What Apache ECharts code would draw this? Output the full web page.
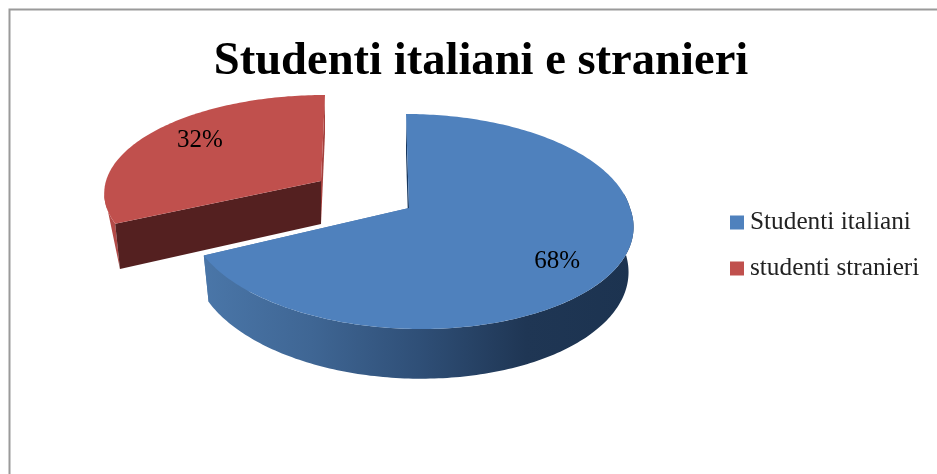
<!DOCTYPE html>
<html><head><meta charset="utf-8">
<style>html,body{margin:0;padding:0;background:#fff}#c{width:937px;height:474px}</style>
<script src="https://cdn.jsdelivr.net/npm/echarts@6/dist/echarts.min.js"></script>
</head><body><div id="c"></div>
<script>
var titleText = 'Studenti italiani e stranieri';
var categories = ['Studenti italiani', 'studenti stranieri'];
var shares = [68, 32];
var colors = ['#4f81bd', '#c0504d'];

// Layout of the drawn 3D slices (screen geometry only, no data)
var sliceLayout = [
  {ax:409, ay:208, rxL:220, rxR:221, ry:105.8, k:0.1256, skewBack:3, skewFront:12, d:44, dRx:5, dRy:5,
   labelR:0.74, labelDy:8,
   rim:{type:'linear',x:0,y:0,x2:1,y2:0,colorStops:[
     {offset:0,color:'#4a76a8'},{offset:.25,color:'#3f6694'},{offset:.5,color:'#2f4f77'},{offset:.75,color:'#1f3654'},{offset:1,color:'#1c3350'}]},
   cutStart:'#17375e', cutEnd:'#4a76a8'},
  {ax:321, ay:181, rxL:215, rxR:215, ry:95.5, k:0.11, skewBack:-4, skewFront:-4, d:43, dRx:5, dRy:5,
   labelR:0.706, labelDy:-6,
   rim:'#b34a47', cutStart:'#542020', cutEnd:'#a5403d'}
];

var total = shares.reduce(function(a,b){return a+b;},0);

function point(L, deg, bottom){
  var t = deg*Math.PI/180, u = Math.cos(t), v = Math.sin(t);
  var w = 1/(1-L.k*v);
  var rx = (u<0?L.rxL:L.rxR) - (bottom?L.dRx:0);
  var ry = L.ry + (bottom?L.dRy:0);
  return [L.ax + rx*u*w + (v<0?L.skewBack:L.skewFront)*v, L.ay + (bottom?L.d:0) + ry*v*w];
}
function arc(L, a, b, bottom){
  var pts=[], n=Math.max(2,Math.ceil(Math.abs(b-a)));
  for(var i=0;i<=n;i++) pts.push(point(L, a+(b-a)*i/n, bottom));
  return pts;
}
function renderSlice(idx){
  return function(params, api){
    var L = sliceLayout[idx], before = 0;
    for(var i=0;i<idx;i++) before += shares[i];
    var value = api.value(0);
    var a0 = -90 + 360*before/total, a1 = a0 + 360*value/total;
    var apexT=[L.ax,L.ay], apexB=[L.ax,L.ay+L.d];
    var rimPts;
    if(idx===0){
      // front wall seen below the top face, from the right silhouette to the cut
      rimPts = arc(L,-8,a1,false).concat(arc(L,-8,a1,true).reverse());
    } else {
      // narrow left wall, from the silhouette straight down to the cut's lower corner
      rimPts = arc(L,a0,a0+18,false).concat([point(L,a0,true)]);
    }
    var children = [];
    children.push({type:'polygon',shape:{points:[apexT,point(L,a1,false),point(L,a1,true),apexB]},style:{fill:L.cutEnd}});
    children.push({type:'polygon',shape:{points:rimPts},style:{fill:L.rim}});
    children.push({type:'polygon',shape:{points:[apexT,point(L,a0,false),point(L,a0,true),apexB]},style:{fill:L.cutStart}});
    children.push({type:'polygon',shape:{points:[apexT].concat(arc(L,a0,a1,false))},style:{fill:colors[idx]}});
    var mid=(a0+a1)/2, t=mid*Math.PI/180, u=Math.cos(t), v=Math.sin(t), w=1/(1-L.k*v);
    children.push({type:'text',z2:10,style:{
      text:Math.round(value/total*100)+'%',
      x:L.ax+(u<0?L.rxL:L.rxR)*u*w*L.labelR,
      y:L.ay+L.ry*v*w*L.labelR+L.labelDy,
      align:'center',verticalAlign:'middle',
      font:'25px "Liberation Serif"',fill:'#000'}});
    return {type:'group',children:children};
  };
}

var chart = echarts.init(document.getElementById('c'),null,{renderer:'canvas'});
chart.setOption({
  animation:false,
  backgroundColor:'#fff',
  title:{text:titleText,left:476,top:33,textAlign:'center',
    textStyle:{fontFamily:'Liberation Serif',fontWeight:'bold',fontSize:46.6,color:'#000'}},
  legend:{data:categories,orient:'vertical',left:725,top:205,itemWidth:14,itemHeight:14,itemGap:21,icon:'rect',
    selectedMode:false,
    textStyle:{fontFamily:'Liberation Serif',fontSize:25.3,lineHeight:23,color:'#222',padding:[0,0,0,1]}},
  graphic:[{type:'rect',silent:true,z:-10,shape:{x:9.5,y:9.5,width:1200,height:1200},style:{fill:'none',stroke:'#9a9a9a',lineWidth:2}}],
  series:categories.map(function(name,i){
    return {type:'custom',name:name,coordinateSystem:'none',z:i===1?2:3,
      itemStyle:{color:colors[i]},renderItem:renderSlice(i),data:[[shares[i]]]};
  })
});
</script></body></html>
